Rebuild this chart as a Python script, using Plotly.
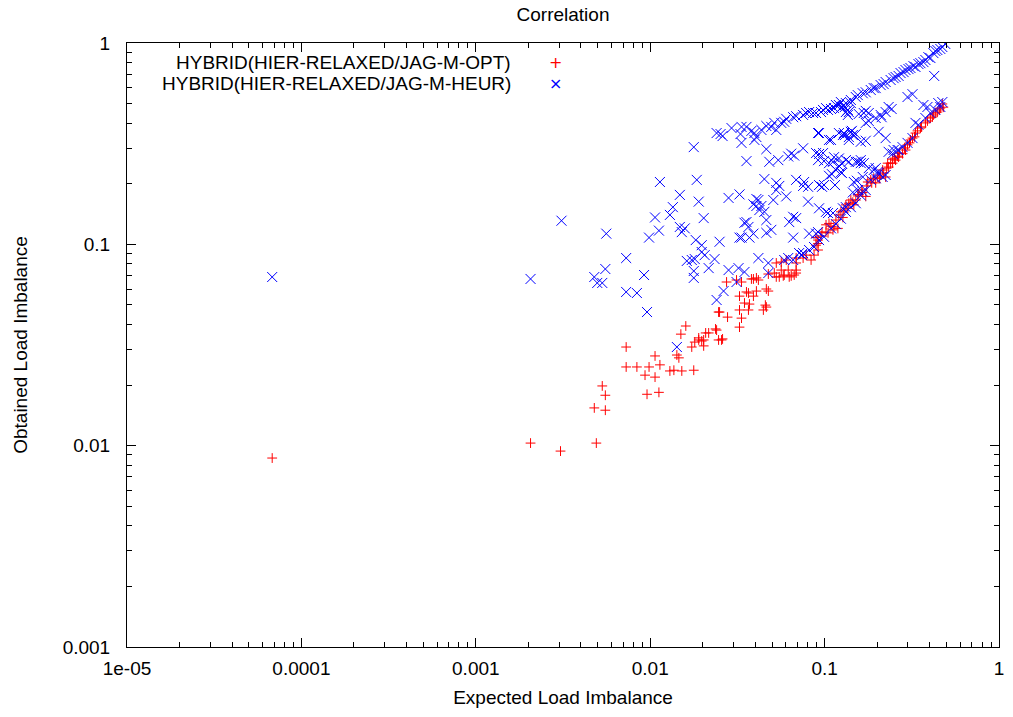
import plotly.graph_objects as go

# ---------------- data ----------------
opt_x = [6.8e-5, 0.00206, 0.00306, 0.00491, 0.00478, 0.00553, 0.00531, 0.00553, 0.00728, 0.00728,
         0.00839, 0.00934, 0.00985, 0.01066, 0.01137, 0.01066, 0.00959, 0.01122, 0.01297, 0.01367,
         0.01518, 0.01777, 0.01422, 0.01460, 0.01499, 0.01600, 0.01731, 0.01801, 0.01898, 0.01974,
         0.02080, 0.02026, 0.02370, 0.02467, 0.02600, 0.02467, 0.02777, 0.03251, 0.03338, 0.03251,
         0.03472, 0.03659, 0.03251, 0.03907, 0.04455, 0.04574, 0.04757, 0.02741, 0.03338, 0.03907,
         0.04064, 0.04757, 0.05284, 0.05793, 0.06435, 0.06869, 0.03126, 0.03564, 0.04064, 0.04634,
         0.03707, 0.03659, 0.04634, 0.02499, 0.03805, 0.04172, 0.05147, 0.05497, 0.05870, 0.06268,
         0.06694, 0.05284, 0.05643, 0.06026, 0.05643, 0.06186, 0.06869, 0.06869, 0.07530, 0.07834,
         0.08365, 0.08701, 0.09171, 0.09171, 0.08933, 0.09539, 0.1046, 0.1117, 0.02026, 0.02164,
         0.02403, 0.01898, 0.02566, 0.08933, 0.09171, 0.1019, 0.1060, 0.1132, 0.1192, 0.1019,
         0.1240, 0.1290, 0.1359, 0.1273, 0.1377, 0.1451, 0.1510, 0.1471, 0.1570, 0.1655,
         0.1722, 0.1768, 0.1839, 0.1913, 0.1963, 0.2016, 0.2096, 0.2181, 0.2239, 0.2329,
         0.2455, 0.2553, 0.2656, 0.2799, 0.2911, 0.2299, 0.2455, 0.2621, 0.2989, 0.3192,
         0.3320, 0.3545, 0.3786, 0.4043, 0.4206, 0.4431, 0.4609, 0.4794, 0.06869, 0.3109,
         0.09665, 0.1088, 0.1161, 0.1208, 0.1324, 0.1414, 0.1550, 0.1633, 0.1745, 0.1863,
         0.2069, 0.2152, 0.2269, 0.2391, 0.2520, 0.2691, 0.2873, 0.3068, 0.3277, 0.3409,
         0.3593, 0.3887, 0.4151, 0.4316, 0.4548, 0.4732]
opt_y = [0.00868, 0.0103, 0.0094, 0.0103, 0.0154, 0.0150, 0.0198, 0.0178, 0.0309, 0.0246,
         0.0246, 0.0224, 0.0246, 0.0279, 0.0252, 0.0219, 0.0180, 0.0184, 0.0235, 0.0237,
         0.0235, 0.0237, 0.0282, 0.0273, 0.0358, 0.0393, 0.0309, 0.0327, 0.0335, 0.0331,
         0.0363, 0.0313, 0.0380, 0.0335, 0.0339, 0.0461, 0.0435, 0.0472, 0.0430, 0.0388,
         0.0511, 0.0573, 0.0553, 0.0553, 0.0472, 0.0499, 0.0586, 0.0650, 0.0650, 0.0673,
         0.0681, 0.0712, 0.0689, 0.0697, 0.0697, 0.0720, 0.0665, 0.0580, 0.0586, 0.0600,
         0.0505, 0.0472, 0.0488, 0.0461, 0.0673, 0.0665, 0.0720, 0.0689, 0.0704, 0.0689,
         0.0704, 0.0808, 0.0817, 0.0836, 0.0745, 0.0745, 0.0808, 0.0745, 0.0855, 0.0884,
         0.0836, 0.0884, 0.0937, 0.101, 0.108, 0.110, 0.114, 0.118, 0.0335, 0.0363,
         0.0375, 0.0343, 0.0335, 0.0990, 0.105, 0.125, 0.127, 0.122, 0.120, 0.115,
         0.145, 0.148, 0.151, 0.136, 0.160, 0.162, 0.166, 0.157, 0.177, 0.181,
         0.173, 0.204, 0.209, 0.213, 0.202, 0.216, 0.221, 0.226, 0.216, 0.242,
         0.253, 0.262, 0.271, 0.282, 0.294, 0.253, 0.265, 0.274, 0.312, 0.337,
         0.357, 0.378, 0.401, 0.424, 0.439, 0.454, 0.475, 0.480, 0.0855, 0.330,
         0.115, 0.123, 0.132, 0.140, 0.157, 0.166, 0.174, 0.186, 0.195, 0.202,
         0.213, 0.234, 0.239, 0.253, 0.268, 0.284, 0.301, 0.319, 0.342, 0.366,
         0.383, 0.410, 0.429, 0.449, 0.465, 0.498]

heur_x = [
    # upper band
    0.02403, 0.02532, 0.02927, 0.03294, 0.03338, 0.03338, 0.03564, 0.03805, 0.03958, 0.04064,
    0.03958, 0.04340, 0.04634, 0.04948, 0.05147, 0.05284, 0.05643, 0.05870, 0.06606, 0.07530,
    0.07834, 0.08588, 0.08933, 0.09793, 0.09539, 0.1046, 0.1088, 0.1132, 0.1161, 0.1208,
    0.1273, 0.1324, 0.1359, 0.1414, 0.1510, 0.1655, 0.1722, 0.1839, 0.1963, 0.2096,
    0.2239, 0.2391, 0.2553, 0.2727, 0.2911, 0.3109, 0.3320, 0.3545, 0.3786, 0.3938,
    0.4206, 0.4431, 0.4732, 0.4922, 0.1019, 0.1240, 0.1550, 0.1913, 0.2181, 0.2487,
    0.2656, 0.2836, 0.3028, 0.3234, 0.3453, 0.3687, 0.4043, 0.4609, 0.4316, 0.06869,
    0.06026, 0.08149, 0.1414,
    # scattered
    6.8e-5, 0.00206, 0.00310, 0.00478, 0.00497, 0.00531, 0.00553, 0.00560, 0.00728, 0.00728,
    0.00839, 0.00922, 0.00959, 0.01066, 0.01122, 0.00985, 0.01137, 0.01297, 0.01349, 0.01479,
    0.01579, 0.01518, 0.01479, 0.01777, 0.01849, 0.01898, 0.01777, 0.01777, 0.01825, 0.01974,
    0.02053, 0.01621, 0.01731, 0.01801, 0.02164, 0.02339, 0.02026, 0.02403, 0.02634, 0.02600,
    0.02814, 0.03251, 0.02499, 0.02814, 0.03209, 0.03472, 0.03126, 0.03338, 0.03707, 0.03907,
    0.03564, 0.03564, 0.03472, 0.03251, 0.03659, 0.04064, 0.03907, 0.04340, 0.04514, 0.04172,
    0.04064, 0.04227, 0.04634, 0.04948, 0.04634, 0.04514, 0.04634, 0.04820, 0.05425, 0.04172,
    0.04757, 0.04757, 0.05080, 0.05284, 0.05497, 0.05284, 0.05870, 0.06186, 0.06606, 0.07145,
    0.07530, 0.06026, 0.06186, 0.06435, 0.06694, 0.07530, 0.06606, 0.06869, 0.06268, 0.06606,
    0.06869, 0.07630, 0.07530, 0.08042, 0.08042, 0.08149, 0.08933, 0.08933, 0.09171, 0.09292,
    0.09292, 0.09665, 0.09922, 0.09922, 0.1060, 0.1060, 0.1060, 0.1102, 0.1147, 0.1046,
    0.1117, 0.09292, 0.1019, 0.09171, 0.1117, 0.1208, 0.1161, 0.1240, 0.1257, 0.1257,
    0.1208, 0.1208, 0.1290, 0.1377, 0.1414, 0.1307, 0.1377, 0.1433, 0.1510, 0.1612,
    0.1722, 0.1722, 0.1791, 0.1722, 0.1791, 0.1377, 0.1257, 0.1307, 0.1471, 0.1510,
    0.1550, 0.1612, 0.1677, 0.1791, 0.1913, 0.2016, 0.1530, 0.1655, 0.1963, 0.2042,
    0.1839, 0.1963, 0.2152, 0.2239, 0.1550, 0.1655, 0.1451, 0.1273, 0.1324, 0.2042,
    0.2239, 0.2124, 0.2239, 0.2423, 0.1963, 0.2096, 0.2329, 0.2989, 0.3192, 0.3887,
    0.3687, 0.4250, 0.4489, 0.4732, 0.4609, 0.1570, 0.1677, 0.1240, 0.1324, 0.1359,
    0.1451, 0.1273, 0.1088, 0.09292, 0.1612, 0.1377, 0.1324, 0.1132, 0.09793, 0.09171,
    0.01422, 0.01974,
    # lower band
    0.07432, 0.08149, 0.08701, 0.09292, 0.09922, 0.1088, 0.1161, 0.1240, 0.1324, 0.1414,
    0.1510, 0.1612, 0.1722, 0.2455, 0.2621, 0.2799, 0.2989, 0.3192, 0.3320, 0.3453,
    0.2329, 0.2487, 0.2656, 0.3786, 0.4043, 0.4316]
heur_y = [
    # upper band
    0.357, 0.353, 0.378, 0.353, 0.319, 0.383, 0.383, 0.366, 0.357, 0.341,
    0.330, 0.370, 0.387, 0.383, 0.401, 0.370, 0.401, 0.406, 0.428, 0.439,
    0.449, 0.449, 0.449, 0.465, 0.454, 0.465, 0.470, 0.475, 0.492, 0.492,
    0.486, 0.503, 0.465, 0.521, 0.539, 0.563, 0.569, 0.584, 0.597, 0.618,
    0.640, 0.655, 0.678, 0.709, 0.734, 0.751, 0.760, 0.794, 0.823, 0.851,
    0.891, 0.923, 0.955, 0.989, 0.475, 0.509, 0.551, 0.597, 0.625, 0.669,
    0.686, 0.717, 0.742, 0.768, 0.786, 0.804, 0.842, 0.934, 0.913, 0.433,
    0.420, 0.454, 0.503,
    # scattered
    0.0688, 0.0673, 0.131, 0.0688, 0.0643, 0.0643, 0.0754, 0.113, 0.0855, 0.0580,
    0.0573, 0.0704, 0.0461, 0.136, 0.117, 0.108, 0.204, 0.140, 0.153, 0.122,
    0.120, 0.115, 0.176, 0.304, 0.209, 0.163, 0.0681, 0.0737, 0.105, 0.0916,
    0.0884, 0.0827, 0.0836, 0.0845, 0.0762, 0.0845, 0.135, 0.0529, 0.0586, 0.345,
    0.170, 0.177, 0.103, 0.0745, 0.0762, 0.0729, 0.0650, 0.108, 0.108, 0.113,
    0.259, 0.129, 0.128, 0.108, 0.122, 0.168, 0.158, 0.155, 0.145, 0.166,
    0.155, 0.148, 0.132, 0.118, 0.114, 0.211, 0.297, 0.257, 0.262, 0.0855,
    0.0808, 0.0720, 0.166, 0.202, 0.195, 0.186, 0.0836, 0.0855, 0.0836, 0.0905,
    0.0905, 0.173, 0.273, 0.282, 0.276, 0.300, 0.137, 0.135, 0.129, 0.108,
    0.209, 0.204, 0.195, 0.193, 0.163, 0.113, 0.113, 0.284, 0.357, 0.281,
    0.197, 0.193, 0.197, 0.259, 0.330, 0.253, 0.219, 0.223, 0.197, 0.143,
    0.143, 0.151, 0.145, 0.115, 0.257, 0.245, 0.234, 0.228, 0.252, 0.226,
    0.267, 0.357, 0.357, 0.330, 0.362, 0.349, 0.341, 0.366, 0.353, 0.323,
    0.327, 0.401, 0.410, 0.460, 0.449, 0.454, 0.481, 0.481, 0.204, 0.257,
    0.257, 0.253, 0.253, 0.239, 0.234, 0.229, 0.207, 0.216, 0.239, 0.226,
    0.209, 0.213, 0.216, 0.221, 0.186, 0.183, 0.181, 0.151, 0.153, 0.362,
    0.337, 0.428, 0.454, 0.470, 0.424, 0.439, 0.481, 0.539, 0.557, 0.481,
    0.492, 0.686, 0.503, 0.509, 0.481, 0.444, 0.449, 0.475, 0.454, 0.439,
    0.349, 0.349, 0.330, 0.357, 0.262, 0.257, 0.262, 0.271, 0.284, 0.262,
    0.0309, 0.0990,
    # lower band
    0.0884, 0.0937, 0.0970, 0.105, 0.109, 0.120, 0.126, 0.134, 0.145, 0.153,
    0.160, 0.175, 0.186, 0.282, 0.294, 0.304, 0.319, 0.337, 0.401, 0.392,
    0.288, 0.294, 0.294, 0.424, 0.449, 0.465]

series_names = ["HYBRID(HIER-RELAXED/JAG-M-OPT)", "HYBRID(HIER-RELAXED/JAG-M-HEUR)"]
x_tickvals = [1e-5, 1e-4, 1e-3, 1e-2, 1e-1, 1]
x_ticktext = ["1e-05", "0.0001", "0.001", "0.01", "0.1", "1"]
y_tickvals = [1e-3, 1e-2, 1e-1, 1]
y_ticktext = ["0.001", "0.01", "0.1", "1"]

# ---------------- figure ----------------
FONT = "Liberation Sans, Arial, sans-serif"
FS = 19

fig = go.Figure()
fig.add_trace(go.Scatter(
    x=opt_x, y=opt_y, mode="markers", name=series_names[0], showlegend=False,
    marker=dict(symbol="cross-thin", size=7, line=dict(color="#ff0000", width=1), color="#ff0000")))
fig.add_trace(go.Scatter(
    x=heur_x, y=heur_y, mode="markers", name=series_names[1], showlegend=False,
    marker=dict(symbol="x-thin", size=10, line=dict(color="#0000ff", width=1), color="#0000ff")))

minor_x = [k * 10.0 ** e for e in range(-5, 0) for k in range(2, 10)]
minor_y = [k * 10.0 ** e for e in range(-3, 0) for k in range(2, 10)]

axis_common = dict(
    type="log", showgrid=False, zeroline=False, showline=True, linecolor="black", linewidth=1,
    mirror="allticks", ticks="inside", ticklen=9, tickwidth=1, tickcolor="black",
    tickmode="array", tickfont=dict(family=FONT, size=FS, color="black"),
)

fig.update_layout(
    width=1013, height=717,
    margin=dict(l=127, r=9, t=43, b=70, pad=0),
    paper_bgcolor="white", plot_bgcolor="white",
    font=dict(family=FONT, size=FS, color="black"),
    title=dict(text="Correlation", x=0.5, xref="paper", y=1 - 14 / 717, yref="container",
               xanchor="center", yanchor="middle", font=dict(family=FONT, size=FS, color="black")),
    xaxis=dict(**axis_common, range=[-5, 0], tickvals=x_tickvals, ticktext=x_ticktext,
               ticklabelstandoff=4,
               minor=dict(ticks="inside", ticklen=5, tickwidth=1, tickcolor="black",
                          tickvals=minor_x, showgrid=False),
               title=dict(text="Expected Load Imbalance", standoff=12,
                          font=dict(family=FONT, size=FS, color="black"))),
    yaxis=dict(**axis_common, range=[-3, 0], tickvals=y_tickvals, ticktext=y_ticktext,
               ticklabelstandoff=12,
               minor=dict(ticks="inside", ticklen=5, tickwidth=1, tickcolor="black",
                          tickvals=minor_y, showgrid=False),
               title=dict(text="Obtained Load Imbalance", standoff=30,
                          font=dict(family=FONT, size=FS, color="black"))),
)

# legend drawn gnuplot-style: right-aligned text with sample marker to the right
legend_rows = [(series_names[0], "+", "#ff0000", 1 - 20 / 604),
               (series_names[1], "\u00d7", "#0000ff", 1 - 40 / 604)]
for text, sym, col, yy in legend_rows:
    fig.add_annotation(text=text, xref="paper", yref="paper", x=(515 - 127) / 877, y=yy,
                       xanchor="right", yanchor="middle", showarrow=False,
                       font=dict(family=FONT, size=FS, color="black"))
    fig.add_annotation(text=sym, xref="paper", yref="paper", x=(558 - 127) / 877, y=yy,
                       xanchor="center", yanchor="middle", showarrow=False,
                       font=dict(family="DejaVu Sans", size=16, color=col))

fig.write_html("out.html", include_plotlyjs=True, config={"displayModeBar": False},
               post_script="document.body.style.margin='0';document.body.style.overflow='hidden';")
